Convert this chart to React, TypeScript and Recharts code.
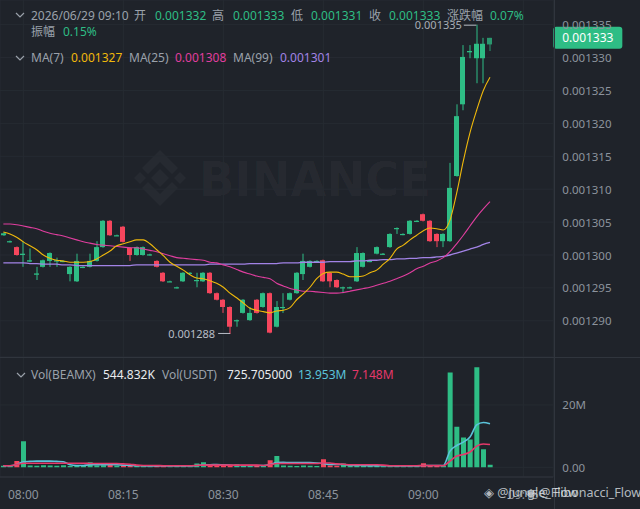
import React from "react";
import { ComposedChart, Bar, Line, XAxis, YAxis, CartesianGrid, ReferenceLine, Cell } from "recharts";

const times = [
  "07:57","07:58","07:59","08:00","08:01","08:02","08:03","08:04","08:05","08:06",
  "08:07","08:08","08:09","08:10","08:11","08:12","08:13","08:14","08:15","08:16",
  "08:17","08:18","08:19","08:20","08:21","08:22","08:23","08:24","08:25","08:26",
  "08:27","08:28","08:29","08:30","08:31","08:32","08:33","08:34","08:35","08:36",
  "08:37","08:38","08:39","08:40","08:41","08:42","08:43","08:44","08:45","08:46",
  "08:47","08:48","08:49","08:50","08:51","08:52","08:53","08:54","08:55","08:56",
  "08:57","08:58","08:59","09:00","09:01","09:02","09:03","09:04","09:05","09:06",
  "09:07","09:08","09:09","09:10","09:11","09:12","09:13","09:14","09:15","09:16",
  "09:17","09:18","09:19",
];

const openP = [
  0.0013030,0.0013020,0.0013012,0.0013000,0.0012990,0.0012970,0.0012982,0.0012991,0.0012990,0.0012990,
  0.0012971,0.0012960,0.0012981,0.0012982,0.0012991,0.0013012,0.0013052,0.0013029,0.0013043,0.0013011,
  0.0013000,0.0013000,0.0013000,0.0012991,0.0012973,0.0012959,0.0012950,0.0012960,0.0012972,0.0012961,
  0.0012960,0.0012973,0.0012942,0.0012932,0.0012921,0.0012900,0.0012912,0.0012901,0.0012932,0.0012921,
  0.0012942,0.0012891,0.0012920,0.0012932,0.0012942,0.0012971,0.0012982,0.0012990,0.0012992,0.0012973,
  0.0012962,0.0012950,0.0012950,0.0012960,0.0012982,0.0012990,0.0013002,0.0013001,0.0013012,0.0013040,
  0.0013031,0.0013032,0.0013051,0.0013062,0.0013052,0.0013032,0.0013021,0.0013021,0.0013120,0.0013229,
  0.0013308,0.0013299,0.0013299,0.0013320,
];
const highP = [
  0.0013034,0.0013022,0.0013013,0.0013021,0.0013010,0.0012982,0.0012993,0.0013004,0.0012996,0.0012992,
  0.0012983,0.0013002,0.0012983,0.0013002,0.0013021,0.0013053,0.0013053,0.0013031,0.0013044,0.0013012,
  0.0013013,0.0013013,0.0013002,0.0012992,0.0012974,0.0012961,0.0012952,0.0012974,0.0012974,0.0012973,
  0.0012974,0.0012974,0.0012943,0.0012933,0.0012922,0.0012902,0.0012933,0.0012921,0.0012933,0.0012943,
  0.0012943,0.0012930,0.0012942,0.0012943,0.0012974,0.0013002,0.0012992,0.0012992,0.0012993,0.0012974,
  0.0012963,0.0012952,0.0012952,0.0013012,0.0013004,0.0012992,0.0013013,0.0013003,0.0013033,0.0013042,
  0.0013033,0.0013053,0.0013053,0.0013063,0.0013053,0.0013033,0.0013033,0.0013140,0.0013229,0.0013319,
  0.0013319,0.0013350,0.0013330,0.0013330,
];
const lowP = [
  0.0013029,0.0013019,0.0012999,0.0012982,0.0012989,0.0012962,0.0012981,0.0012982,0.0012982,0.0012989,
  0.0012960,0.0012959,0.0012980,0.0012981,0.0012990,0.0013011,0.0013029,0.0013029,0.0013019,0.0012991,
  0.0012999,0.0012999,0.0012999,0.0012981,0.0012959,0.0012959,0.0012949,0.0012959,0.0012971,0.0012951,
  0.0012959,0.0012941,0.0012931,0.0012912,0.0012880,0.0012891,0.0012911,0.0012900,0.0012911,0.0012920,
  0.0012881,0.0012890,0.0012912,0.0012931,0.0012941,0.0012962,0.0012981,0.0012989,0.0012959,0.0012951,
  0.0012950,0.0012942,0.0012949,0.0012959,0.0012981,0.0012989,0.0013001,0.0013000,0.0013011,0.0013032,
  0.0013030,0.0013031,0.0013050,0.0013051,0.0013020,0.0013012,0.0013012,0.0013020,0.0013119,0.0013220,
  0.0013299,0.0013261,0.0013261,0.0013310,
];
const closeP = [
  0.0013033,0.0013021,0.0013000,0.0013002,0.0012992,0.0012972,0.0012992,0.0013003,0.0012992,0.0012991,
  0.0012982,0.0012991,0.0012982,0.0012991,0.0013012,0.0013052,0.0013030,0.0013030,0.0013020,0.0013000,
  0.0013012,0.0013012,0.0013001,0.0012982,0.0012960,0.0012960,0.0012951,0.0012973,0.0012973,0.0012962,
  0.0012973,0.0012942,0.0012932,0.0012921,0.0012891,0.0012901,0.0012932,0.0012912,0.0012912,0.0012942,
  0.0012882,0.0012921,0.0012921,0.0012942,0.0012973,0.0012991,0.0012991,0.0012991,0.0012960,0.0012960,
  0.0012951,0.0012951,0.0012951,0.0013003,0.0013003,0.0012991,0.0013012,0.0013002,0.0013032,0.0013041,
  0.0013032,0.0013052,0.0013052,0.0013052,0.0013021,0.0013021,0.0013032,0.0013102,0.0013211,0.0013301,
  0.0013310,0.0013321,0.0013321,0.0013330,
];

const ma7 = [
  0.0013035,0.0013032,0.0013027,0.0013020,0.0013014,0.0013008,0.0013000,0.0012995,0.0012992,0.0012991,
  0.0012989,0.0012989,0.0012989,0.0012990,0.0012994,0.0013000,0.0013006,0.0013014,0.0013017,0.0013020,
  0.0013023,0.0013023,0.0013017,0.0013008,0.0012999,0.0012989,0.0012983,0.0012977,0.0012970,0.0012965,
  0.0012964,0.0012961,0.0012957,0.0012951,0.0012942,0.0012935,0.0012927,0.0012919,0.0012916,0.0012914,
  0.0012912,0.0012915,0.0012916,0.0012920,0.0012932,0.0012941,0.0012951,0.0012964,0.0012972,0.0012974,
  0.0012974,0.0012971,0.0012967,0.0012967,0.0012968,0.0012973,0.0012977,0.0012986,0.0012995,0.0013009,
  0.0013015,0.0013023,0.0013030,0.0013037,0.0013041,0.0013040,0.0013038,0.0013053,0.0013094,0.0013143,
  0.0013186,0.0013220,0.0013250,0.0013270,
];
const ma25 = [
  0.0013047,0.0013047,0.0013046,0.0013044,0.0013042,0.0013040,0.0013036,0.0013033,0.0013031,0.0013029,
  0.0013026,0.0013023,0.0013020,0.0013018,0.0013016,0.0013015,0.0013014,0.0013013,0.0013012,0.0013011,
  0.0013011,0.0013009,0.0013007,0.0013005,0.0013002,0.0012999,0.0012996,0.0012995,0.0012994,0.0012993,
  0.0012992,0.0012989,0.0012988,0.0012985,0.0012982,0.0012978,0.0012974,0.0012971,0.0012968,0.0012966,
  0.0012964,0.0012957,0.0012953,0.0012949,0.0012947,0.0012945,0.0012945,0.0012944,0.0012943,0.0012942,
  0.0012942,0.0012943,0.0012945,0.0012947,0.0012949,0.0012951,0.0012954,0.0012957,0.0012960,0.0012964,
  0.0012968,0.0012973,0.0012979,0.0012983,0.0012988,0.0012991,0.0012996,0.0013005,0.0013017,0.0013030,
  0.0013044,0.0013058,0.0013070,0.0013081,
];
const ma99 = [
  0.0012988,0.0012988,0.0012988,0.0012988,0.0012987,0.0012987,0.0012986,0.0012986,0.0012986,0.0012985,
  0.0012985,0.0012984,0.0012984,0.0012984,0.0012984,0.0012984,0.0012984,0.0012984,0.0012984,0.0012984,
  0.0012985,0.0012985,0.0012985,0.0012985,0.0012985,0.0012985,0.0012985,0.0012985,0.0012985,0.0012985,
  0.0012985,0.0012986,0.0012986,0.0012986,0.0012986,0.0012986,0.0012986,0.0012987,0.0012987,0.0012987,
  0.0012987,0.0012987,0.0012988,0.0012988,0.0012988,0.0012989,0.0012989,0.0012989,0.0012989,0.0012990,
  0.0012990,0.0012990,0.0012990,0.0012991,0.0012991,0.0012992,0.0012992,0.0012993,0.0012993,0.0012994,
  0.0012994,0.0012995,0.0012995,0.0012996,0.0012996,0.0012997,0.0012998,0.0013000,0.0013003,0.0013006,
  0.0013009,0.0013012,0.0013016,0.0013019,
];

// volume in millions
const volume = [
  0.5,0.4,2.0,8.4,0.6,0.5,0.7,0.6,0.5,0.7,
  0.4,0.6,0.5,1.6,0.6,0.7,0.9,0.5,0.6,0.5,
  0.4,0.5,0.3,0.4,0.5,0.3,0.4,0.5,0.3,1.2,
  1.6,0.5,0.6,0.4,0.5,1.0,0.5,0.4,0.6,0.5,
  2.3,3.6,0.6,0.5,0.4,0.6,0.5,0.4,2.6,0.6,
  0.5,1.2,0.4,0.5,0.6,0.4,0.5,0.3,0.5,0.4,
  0.3,0.5,0.4,1.3,0.6,0.5,0.4,30.4,13.0,9.6,
  8.9,32.1,5.8,0.8,
];
const volMaA = [
  0.5,0.5,0.9,1.8,1.9,2.0,2.0,2.0,1.9,1.8,
  0.8,0.6,0.6,0.8,0.8,0.8,0.9,0.8,0.7,0.6,
  0.5,0.5,0.4,0.4,0.4,0.4,0.4,0.4,0.4,0.6,
  0.8,0.8,0.9,0.8,0.7,0.6,0.6,0.6,0.6,0.6,
  0.9,1.5,1.6,1.5,1.5,1.5,1.5,1.4,1.2,0.9,
  0.9,0.9,0.6,0.6,0.6,0.5,0.5,0.5,0.5,0.4,
  0.4,0.4,0.4,0.6,0.6,0.6,0.6,5.2,7.0,8.1,
  9.7,13.6,14.4,14.0,
];
const volMaB = [
  0.5,0.5,0.9,1.3,1.3,1.3,1.3,1.3,1.3,1.3,
  1.3,1.3,1.3,1.2,1.2,1.2,1.2,1.2,1.1,1.0,
  0.7,0.6,0.6,0.6,0.5,0.5,0.5,0.5,0.5,0.6,
  0.7,0.7,0.7,0.7,0.7,0.7,0.7,0.7,0.7,0.6,
  0.8,1.2,1.2,1.2,1.2,1.2,1.2,1.2,1.4,1.4,
  1.1,1.0,0.8,0.8,0.8,0.8,0.8,0.7,0.5,0.5,
  0.5,0.5,0.5,0.6,0.6,0.6,0.5,2.0,3.6,4.1,
  4.9,6.8,7.5,7.3,
];

const priceTicks = [0.00129, 0.001295, 0.0013, 0.001305, 0.00131, 0.001315, 0.00132, 0.001325, 0.00133, 0.001335];
const volTicks = [0, 20];
const timeTicks = ["08:00", "08:15", "08:30", "08:45", "09:00", "09:15"];

const BG = "#1F232A";
const GRID = "#262B32";
const SEP = "#30353D";
const GREEN = "#2EBD85";
const RED = "#F6465D";
const GRAY = "#8C939D";
const HGRAY = "#9AA1AA";
const YEL = "#F0B90B";
const PINK = "#E03E9F";
const PURP = "#A283E6";
const CYAN = "#5BC3DA";
const VPINK = "#E5386A";
const FONT = "'Noto Sans', 'Noto Sans CJK SC', sans-serif";

const N = openP.length;
const data = times.map((t, i) =>
  i < N
    ? {
        t, i,
        open: openP[i], high: highP[i], low: lowP[i], close: closeP[i],
        ma7: ma7[i], ma25: ma25[i], ma99: ma99[i],
        vol: volume[i], vma1: volMaA[i], vma2: volMaB[i],
      }
    : { t, i }
);

let maxIdx = 0;
let minIdx = 0;
highP.forEach((h, i) => { if (h > highP[maxIdx]) maxIdx = i; });
lowP.forEach((l, i) => { if (l < lowP[minIdx]) minIdx = i; });
const lastClose = closeP[N - 1];

const Candle = (props: any) => {
  const { x, y, width, height, payload } = props;
  if (!payload || payload.high == null) return null;
  const { open, close, high, low, i } = payload;
  const top = Math.min(y, y + height);
  const h = Math.abs(height);
  const ppu = h / (high - low);
  const cx = x + width / 2;
  const up = close >= open;
  const color = up ? GREEN : RED;
  const bTop = top + (high - Math.max(open, close)) * ppu;
  const bBot = top + (high - Math.min(open, close)) * ppu;
  const bh = Math.max(1.2, bBot - bTop);
  const wx = Math.round(cx) - 0.5;
  const op = i === N - 1 ? 0.75 : 1;
  return (
    <g opacity={op}>
      <rect x={wx} y={top} width={1} height={Math.max(1, h)} fill={color} />
      <rect x={Math.round(cx) - 3} y={bTop} width={5} height={bh} fill={color} />
      {i === maxIdx && (
        <g>
          <line x1={cx - 13} x2={cx - 0.5} y1={top + 0.5} y2={top + 0.5} stroke="#B7BDC6" strokeWidth={1} />
          <text x={cx - 15} y={top} textAnchor="end" dominantBaseline="central" fontSize={11} fill="#A7ADB5">
            {high.toFixed(6)}
          </text>
        </g>
      )}
      {i === minIdx && (
        <g>
          <line x1={cx - 12} x2={cx} y1={top + h - 0.5} y2={top + h - 0.5} stroke="#B7BDC6" strokeWidth={1} />
          <text x={cx - 15} y={top + h} textAnchor="end" dominantBaseline="central" fontSize={11} fill="#B7BDC6">
            {low.toFixed(6)}
          </text>
        </g>
      )}
    </g>
  );
};

const PriceTick = (props: any) => {
  const { x, y, payload } = props;
  return (
    <text x={x} y={y} textAnchor="start" dominantBaseline="central" fontSize={11.5} fill={GRAY}>
      {Number(payload.value).toFixed(6)}
    </text>
  );
};
const VolTick = (props: any) => {
  const { x, y, payload } = props;
  return (
    <text x={x} y={y} textAnchor="start" dominantBaseline="central" fontSize={11.5} fill={GRAY}>
      {payload.value === 0 ? "0.00" : `${payload.value}M`}
    </text>
  );
};
const TimeTick = (props: any) => {
  const { x, y, payload } = props;
  return (
    <text x={x} y={y + 17} textAnchor="middle" dominantBaseline="central" fontSize={12} fill={GRAY}>
      {payload.value}
    </text>
  );
};

const PriceTag = (props: any) => {
  const vb = props.viewBox || {};
  const x0 = (vb.x || 0) + (vb.width || 0);
  const yc = vb.y || 0;
  return (
    <g>
      <rect x={x0} y={yc - 11} width={69} height={22} rx={3} fill={GREEN} />
      <text x={x0 + 34.5} y={yc} textAnchor="middle" dominantBaseline="central" fontSize={12} fill="#FFFFFF">
        {lastClose.toFixed(6)}
      </text>
    </g>
  );
};

const Txt = ({ left, top, color, children, size = 12 }: any) => (
  <span
    style={{
      position: "absolute", left, top: top - 9, lineHeight: "18px", fontSize: size,
      color, whiteSpace: "nowrap",
    }}
  >
    {children}
  </span>
);

const Chevron = ({ left, top }: any) => (
  <svg style={{ position: "absolute", left, top }} width={10} height={6}>
    <polyline points="1,1 5,5 9,1" fill="none" stroke={HGRAY} strokeWidth={1.2} />
  </svg>
);

export default function App() {
  const axisW = 86.67;
  return (
    <div
      style={{
        position: "fixed", left: 0, top: 0, width: 640, height: 509, background: BG,
        overflow: "hidden", fontFamily: FONT,
      }}
    >
      <svg style={{ position: "absolute", left: 0, top: 0 }} width={640} height={357}>
        <g fill="#FFFFFF" fillOpacity={0.035}>
          <polygon points="160,150 178,168 172,174 160,162 148,174 142,168" />
          <polygon points="160,206 178,188 172,182 160,194 148,182 142,188" />
          <polygon points="160,169 169,178 160,187 151,178" />
          <polygon points="140,172 146,178 140,184 134,178" />
          <polygon points="180,172 186,178 180,184 174,178" />
          <text x={199} y={196} fontFamily="'DejaVu Sans', sans-serif" fontWeight="bold" fontSize={48}
            textLength={232} lengthAdjust="spacingAndGlyphs">BINANCE</text>
        </g>
      </svg>

      <div style={{ position: "absolute", left: 0, top: 0 }}>
        <ComposedChart width={640} height={357} data={data} margin={{ top: 0, right: 0, bottom: 0, left: 0 }}>
          <CartesianGrid stroke={GRID} strokeWidth={1} />
          <XAxis dataKey="t" ticks={timeTicks} hide />
          <YAxis
            orientation="right" width={axisW} domain={[0.0012845, 0.00133875]} allowDataOverflow
            ticks={priceTicks} axisLine={false} tickLine={false} tickSize={0} tickMargin={9}
            tick={<PriceTick />}
          />
          <Line dataKey="ma99" stroke={PURP} strokeWidth={1.3} dot={false} activeDot={false} type="monotone" isAnimationActive={false} />
          <Line dataKey="ma25" stroke={PINK} strokeWidth={1.1} dot={false} activeDot={false} type="monotone" isAnimationActive={false} />
          <Line dataKey="ma7" stroke={YEL} strokeWidth={1.1} dot={false} activeDot={false} type="monotone" isAnimationActive={false} />
          <Bar
            dataKey={(d: any) => (d.high == null ? null : [d.low, d.high])}
            barSize={5} shape={<Candle />} activeBar={false} isAnimationActive={false}
          />
          <ReferenceLine y={lastClose} stroke="none" ifOverflow="visible" label={<PriceTag />} />
        </ComposedChart>
      </div>

      <div style={{ position: "absolute", left: 0, top: 357 }}>
        <ComposedChart width={640} height={152} data={data} margin={{ top: 0, right: 0, bottom: 0, left: 0 }}>
          <CartesianGrid stroke={GRID} strokeWidth={1} />
          <XAxis
            dataKey="t" ticks={timeTicks} height={32} axisLine={{ stroke: SEP }} tickLine={false}
            tickSize={0} tickMargin={0} tick={<TimeTick />} interval={0}
          />
          <YAxis
            orientation="right" width={axisW} domain={[-3.11, 35.4]} allowDataOverflow ticks={volTicks}
            axisLine={false} tickLine={false} tickSize={0} tickMargin={9} tick={<VolTick />}
          />
          <Bar dataKey="vol" barSize={5} activeBar={false} isAnimationActive={false}>
            {data.map((d: any, i: number) => (
              <Cell key={i} fill={d.close != null && d.close < d.open ? RED : GREEN} />
            ))}
          </Bar>
          <Line dataKey="vma1" stroke={CYAN} strokeWidth={1.6} dot={false} activeDot={false} type="monotone" isAnimationActive={false} />
          <Line dataKey="vma2" stroke={VPINK} strokeWidth={1.6} dot={false} activeDot={false} type="monotone" isAnimationActive={false} />
        </ComposedChart>
      </div>

      <div style={{ position: "absolute", left: 0, top: 357, width: 640, height: 1, background: SEP }} />
      <div style={{ position: "absolute", left: 554, top: 0, width: 1, height: 509, background: SEP }} />

      <Chevron left={15} top={12} />
      <Txt left={31} top={16} color={HGRAY}>2026/06/29 09:10</Txt>
      <Txt left={134} top={16} color={HGRAY}>开</Txt>
      <Txt left={155} top={16} color={GREEN}>0.001332</Txt>
      <Txt left={212} top={16} color={HGRAY}>高</Txt>
      <Txt left={233} top={16} color={GREEN}>0.001333</Txt>
      <Txt left={291} top={16} color={HGRAY}>低</Txt>
      <Txt left={311} top={16} color={GREEN}>0.001331</Txt>
      <Txt left={369} top={16} color={HGRAY}>收</Txt>
      <Txt left={389} top={16} color={GREEN}>0.001333</Txt>
      <Txt left={447} top={16} color={HGRAY}>涨跌幅</Txt>
      <Txt left={490} top={16} color={GREEN}>0.07%</Txt>
      <Txt left={31} top={32} color={HGRAY}>振幅</Txt>
      <Txt left={63} top={32} color={GREEN}>0.15%</Txt>

      <Chevron left={15} top={55} />
      <Txt left={31} top={58} color={HGRAY}>MA(7)</Txt>
      <Txt left={71} top={58} color={YEL}>0.001327</Txt>
      <Txt left={129} top={58} color={HGRAY}>MA(25)</Txt>
      <Txt left={175} top={58} color={PINK}>0.001308</Txt>
      <Txt left={233} top={58} color={HGRAY}>MA(99)</Txt>
      <Txt left={280} top={58} color={PURP}>0.001301</Txt>

      <Chevron left={16} top={372} />
      <Txt left={31} top={375} color={HGRAY}>Vol(BEAMX)</Txt>
      <Txt left={103} top={375} color="#EAECEF">544.832K</Txt>
      <Txt left={162} top={375} color={HGRAY}>Vol(USDT)</Txt>
      <Txt left={227} top={375} color="#EAECEF">725.705000</Txt>
      <Txt left={298} top={375} color={CYAN}>13.953M</Txt>
      <Txt left={352} top={375} color={VPINK}>7.148M</Txt>

      <Txt left={484} top={493} color="rgba(222,225,230,0.8)" size={12.5}>◈ @Jungle_Flow</Txt>
      <Txt left={526} top={493} color="rgba(222,225,230,0.8)" size={12.5}>◈ @ Fibonacci_Flow</Txt>
    </div>
  );
}
